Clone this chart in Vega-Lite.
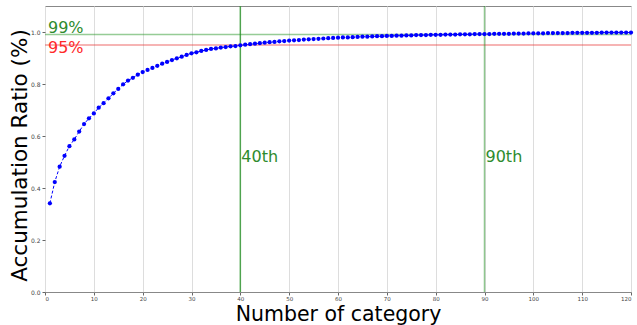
{
  "$schema": "https://vega.github.io/schema/vega-lite/v6.json",
  "width": 586,
  "height": 286,
  "autosize": {"type": "none"},
  "padding": {"left": 45, "top": 6, "right": 6, "bottom": 33},
  "background": "white",
  "config": {
    "view": {"stroke": "#888888", "strokeWidth": 1},
    "font": "DejaVu Sans"
  },
  "datasets": {
    "curve": [
      {"x": 1, "y": 0.341}, {"x": 2, "y": 0.423}, {"x": 3, "y": 0.482}, {"x": 4, "y": 0.524}, {"x": 5, "y": 0.561},
      {"x": 6, "y": 0.587}, {"x": 7, "y": 0.617}, {"x": 8, "y": 0.646}, {"x": 9, "y": 0.668}, {"x": 10, "y": 0.687},
      {"x": 11, "y": 0.709}, {"x": 12, "y": 0.726}, {"x": 13, "y": 0.745}, {"x": 14, "y": 0.764}, {"x": 15, "y": 0.781},
      {"x": 16, "y": 0.799}, {"x": 17, "y": 0.813}, {"x": 18, "y": 0.824}, {"x": 19, "y": 0.836}, {"x": 20, "y": 0.846},
      {"x": 21, "y": 0.854}, {"x": 22, "y": 0.862}, {"x": 23, "y": 0.870}, {"x": 24, "y": 0.878}, {"x": 25, "y": 0.885},
      {"x": 26, "y": 0.892}, {"x": 27, "y": 0.899}, {"x": 28, "y": 0.905}, {"x": 29, "y": 0.912}, {"x": 30, "y": 0.918},
      {"x": 31, "y": 0.922}, {"x": 32, "y": 0.927}, {"x": 33, "y": 0.931}, {"x": 34, "y": 0.935}, {"x": 35, "y": 0.937},
      {"x": 36, "y": 0.940}, {"x": 37, "y": 0.942}, {"x": 38, "y": 0.945}, {"x": 39, "y": 0.946}, {"x": 40, "y": 0.949},
      {"x": 41, "y": 0.951}, {"x": 42, "y": 0.953}, {"x": 43, "y": 0.955}, {"x": 44, "y": 0.957}, {"x": 45, "y": 0.959},
      {"x": 46, "y": 0.961}, {"x": 47, "y": 0.962}, {"x": 48, "y": 0.964}, {"x": 49, "y": 0.965}, {"x": 50, "y": 0.967},
      {"x": 51, "y": 0.968}, {"x": 52, "y": 0.969}, {"x": 53, "y": 0.971}, {"x": 54, "y": 0.972}, {"x": 55, "y": 0.973},
      {"x": 56, "y": 0.974}, {"x": 57, "y": 0.975}, {"x": 58, "y": 0.976}, {"x": 59, "y": 0.977}, {"x": 60, "y": 0.978},
      {"x": 61, "y": 0.979}, {"x": 62, "y": 0.979}, {"x": 63, "y": 0.980}, {"x": 64, "y": 0.981}, {"x": 65, "y": 0.982},
      {"x": 66, "y": 0.982}, {"x": 67, "y": 0.983}, {"x": 68, "y": 0.984}, {"x": 69, "y": 0.984}, {"x": 70, "y": 0.985},
      {"x": 71, "y": 0.985}, {"x": 72, "y": 0.986}, {"x": 73, "y": 0.986}, {"x": 74, "y": 0.987}, {"x": 75, "y": 0.987},
      {"x": 76, "y": 0.988}, {"x": 77, "y": 0.988}, {"x": 78, "y": 0.988}, {"x": 79, "y": 0.989}, {"x": 80, "y": 0.989},
      {"x": 81, "y": 0.989}, {"x": 82, "y": 0.990}, {"x": 83, "y": 0.990}, {"x": 84, "y": 0.990}, {"x": 85, "y": 0.991},
      {"x": 86, "y": 0.991}, {"x": 87, "y": 0.991}, {"x": 88, "y": 0.992}, {"x": 89, "y": 0.992}, {"x": 90, "y": 0.992},
      {"x": 91, "y": 0.992}, {"x": 92, "y": 0.993}, {"x": 93, "y": 0.993}, {"x": 94, "y": 0.993}, {"x": 95, "y": 0.993},
      {"x": 96, "y": 0.994}, {"x": 97, "y": 0.994}, {"x": 98, "y": 0.994}, {"x": 99, "y": 0.995}, {"x": 100, "y": 0.995},
      {"x": 101, "y": 0.995}, {"x": 102, "y": 0.995}, {"x": 103, "y": 0.996}, {"x": 104, "y": 0.996}, {"x": 105, "y": 0.996},
      {"x": 106, "y": 0.996}, {"x": 107, "y": 0.996}, {"x": 108, "y": 0.997}, {"x": 109, "y": 0.997}, {"x": 110, "y": 0.997},
      {"x": 111, "y": 0.997}, {"x": 112, "y": 0.997}, {"x": 113, "y": 0.997}, {"x": 114, "y": 0.998}, {"x": 115, "y": 0.998},
      {"x": 116, "y": 0.998}, {"x": 117, "y": 0.998}, {"x": 118, "y": 0.998}, {"x": 119, "y": 0.998}, {"x": 120, "y": 0.998}
    ],
    "hlines": [
      {"y": 0.99, "color": "#2e9a2e"},
      {"y": 0.95, "color": "#e83a3a"}
    ],
    "vlines": [
      {"x": 40, "op": 0.75},
      {"x": 90, "op": 0.5}
    ],
    "labels": [
      {"x": 40, "y": 0.5, "label": "40th"},
      {"x": 90, "y": 0.5, "label": "90th"}
    ]
  },
  "layer": [
    {
      "data": {"name": "hlines"},
      "mark": {"type": "rule", "strokeWidth": 1.5, "opacity": 0.5},
      "encoding": {
        "y": {"field": "y", "type": "quantitative", "scale": {"domain": [0, 1.1]}},
        "color": {"field": "color", "type": "nominal", "scale": null}
      }
    },
    {
      "data": {"name": "vlines"},
      "mark": {"type": "rule", "strokeWidth": 1.5, "color": "#1f8f1f"},
      "encoding": {
        "x": {"field": "x", "type": "quantitative"},
        "opacity": {"field": "op", "type": "quantitative", "scale": null}
      }
    },
    {
      "data": {"name": "curve"},
      "mark": {"type": "line", "color": "blue", "strokeWidth": 1, "strokeDash": [3, 2], "point": {"filled": true, "color": "blue", "size": 18, "opacity": 1}},
      "encoding": {
        "x": {
          "field": "x", "type": "quantitative",
          "scale": {"domain": [0, 120], "nice": false, "zero": false},
          "axis": {
            "values": [0, 10, 20, 30, 40, 50, 60, 70, 80, 90, 100, 110, 120],
            "grid": true, "gridColor": "#dddddd", "gridWidth": 1,
            "labelFontSize": 5.5, "labelColor": "#444444", "labelPadding": 1,
            "tickSize": 3, "tickColor": "#666666", "domain": false,
            "title": "Number of category", "titleFontSize": 20.5, "titleFontWeight": "normal",
            "titleColor": "black", "titleY": 28, "titleBaseline": "alphabetic", "titleX": 293, "titleAlign": "center"
          }
        },
        "y": {
          "field": "y", "type": "quantitative",
          "scale": {"domain": [0, 1.1], "nice": false},
          "axis": {
            "values": [0, 0.2, 0.4, 0.6, 0.8, 1.0], "format": ".1f",
            "grid": false, "labelFontSize": 6, "labelColor": "#444444", "labelPadding": 2,
            "tickSize": 3, "tickColor": "#666666", "domain": false,
            "title": "Accumulation Ratio (%)", "titleFontSize": 21.5, "titleFontWeight": "normal",
            "titleColor": "black", "titleX": -25, "titleY": 149, "titleAngle": -90,
            "titleBaseline": "middle", "titleAlign": "center"
          }
        }
      }
    },
    {
      "data": {"values": [{"x": 0, "y": 0.99, "label": "99%"}]},
      "mark": {"type": "text", "color": "#2e8b2e", "fontSize": 16, "align": "left", "baseline": "alphabetic", "dx": 3, "dy": -2},
      "encoding": {
        "x": {"field": "x", "type": "quantitative"},
        "y": {"field": "y", "type": "quantitative"},
        "text": {"field": "label"}
      }
    },
    {
      "data": {"values": [{"x": 0, "y": 0.95, "label": "95%"}]},
      "mark": {"type": "text", "color": "#ff2a2a", "fontSize": 16, "align": "left", "baseline": "top", "dx": 3, "dy": -5},
      "encoding": {
        "x": {"field": "x", "type": "quantitative"},
        "y": {"field": "y", "type": "quantitative"},
        "text": {"field": "label"}
      }
    },
    {
      "data": {"name": "labels"},
      "mark": {"type": "text", "color": "#2e8b2e", "fontSize": 16, "align": "left", "baseline": "alphabetic", "dx": 1},
      "encoding": {
        "x": {"field": "x", "type": "quantitative"},
        "y": {"field": "y", "type": "quantitative"},
        "text": {"field": "label"}
      }
    }
  ]
}
